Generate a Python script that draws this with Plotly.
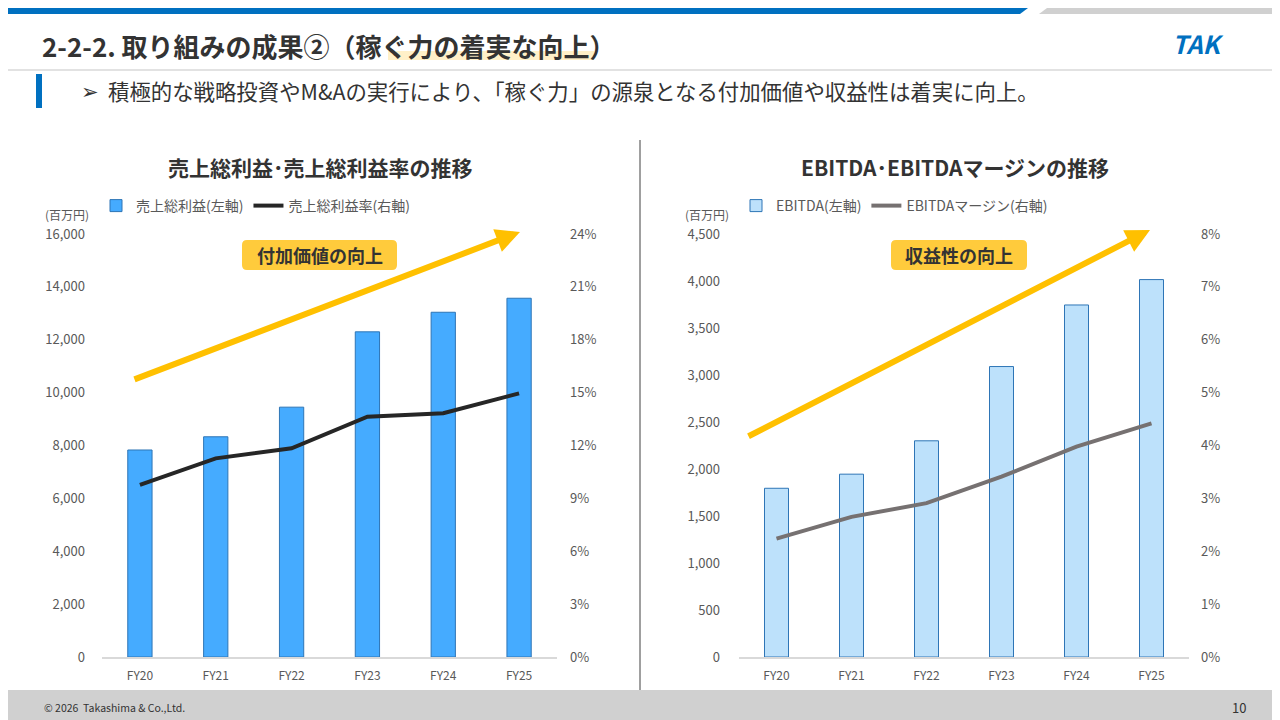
import plotly.graph_objects as go

# data
years = ["FY20", "FY21", "FY22", "FY23", "FY24", "FY25"]
gross_profit = [7830, 8330, 9450, 12300, 13040, 13570]        # 百万円
gross_margin = [0.0976, 0.1127, 0.1184, 0.1363, 0.1383, 0.1496]
ebitda = [1795, 1945, 2300, 3090, 3745, 4015]                 # 百万円
ebitda_margin = [0.0224, 0.0265, 0.0291, 0.0341, 0.0398, 0.0442]

W, H = 1280, 720
OFF = 8  # page body margin, positions below are page pixels
FONT = "Noto Sans CJK JP"
TXT = "#333333"
TICK = "#595959"
BLUE = "#0070C0"
YELLOW = "#FFC000"


def px(x):
    return (x - OFF) / W


def py(y):
    return 1 - (y - OFF) / H


fig = go.Figure()

fig.add_trace(go.Bar(x=years, y=gross_profit, name="売上総利益(左軸)",
                     marker=dict(color="#45ABFF", line=dict(color="#2E75B6", width=1)),
                     xaxis="x", yaxis="y", legend="legend"))
fig.add_trace(go.Scatter(x=years, y=gross_margin, name="売上総利益率(右軸)", mode="lines",
                         line=dict(color="#262626", width=4),
                         xaxis="x", yaxis="y2", legend="legend"))
fig.add_trace(go.Bar(x=years, y=ebitda, name="EBITDA(左軸)",
                     marker=dict(color="#BDE1FB", line=dict(color="#2E75B6", width=1)),
                     xaxis="x2", yaxis="y3", legend="legend2"))
fig.add_trace(go.Scatter(x=years, y=ebitda_margin, name="EBITDAマージン(右軸)", mode="lines",
                         line=dict(color="#767171", width=4),
                         xaxis="x2", yaxis="y4", legend="legend2"))

tickfont = dict(family=FONT, size=13, color=TICK)
xcommon = dict(showgrid=False, zeroline=False, showline=True, linecolor="#D9D9D9",
               linewidth=2, ticks="", tickfont=dict(family=FONT, size=12, color=TICK),
               ticklabelstandoff=7, fixedrange=True)
ycommon = dict(showgrid=False, zeroline=False, showline=False, ticks="",
               tickfont=tickfont, fixedrange=True)
ydom = [py(657), py(234)]

fig.update_layout(
    width=W, height=H,
    margin=dict(l=0, r=0, t=0, b=0, autoexpand=False),
    paper_bgcolor="white", plot_bgcolor="white",
    font=dict(family=FONT, color=TXT),
    bargap=0.68,
    xaxis=dict(domain=[px(102), px(557)], anchor="y", **xcommon),
    yaxis=dict(domain=ydom, anchor="x", range=[0, 16000], dtick=2000,
               tickformat=",", ticklabelstandoff=16, **ycommon),
    yaxis2=dict(overlaying="y", side="right", anchor="x", range=[0, 0.24], dtick=0.03,
                tickformat=".0%", ticklabelstandoff=12, **ycommon),
    xaxis2=dict(domain=[px(739), px(1189)], anchor="y3", **xcommon),
    yaxis3=dict(domain=ydom, anchor="x2", range=[0, 4500], dtick=500,
                tickformat=",", ticklabelstandoff=18, **ycommon),
    yaxis4=dict(overlaying="y3", side="right", anchor="x2", range=[0, 0.08], dtick=0.01,
                tickformat=".0%", ticklabelstandoff=11, **ycommon),
    legend=dict(orientation="h", x=px(96), y=py(190), xanchor="left", yanchor="top",
                font=dict(family=FONT, size=14, color=TICK), bgcolor="rgba(0,0,0,0)",
                itemwidth=30, tracegroupgap=0),
    legend2=dict(orientation="h", x=px(736), y=py(190), xanchor="left", yanchor="top",
                 font=dict(family=FONT, size=14, color=TICK), bgcolor="rgba(0,0,0,0)",
                 itemwidth=30, tracegroupgap=0),
    showlegend=True,
)

shapes = []
# top band
shapes.append(dict(type="path", xref="paper", yref="paper",
                   path=f"M 0 1 L {px(1028)} 1 L {px(1020)} {py(14)} L 0 {py(14)} Z",
                   fillcolor=BLUE, line=dict(width=0)))
shapes.append(dict(type="path", xref="paper", yref="paper",
                   path=f"M {px(1047)} 1 L 1 1 L 1 {py(14)} L {px(1039)} {py(14)} Z",
                   fillcolor="#D0D0D0", line=dict(width=0)))
# title highlight
shapes.append(dict(type="rect", xref="paper", yref="paper",
                   x0=px(388), x1=px(594), y0=py(60), y1=py(51),
                   fillcolor="#FFF0C8", line=dict(width=0), layer="below"))
# header rule and accent
shapes.append(dict(type="line", xref="paper", yref="paper",
                   x0=0, x1=1, y0=py(70), y1=py(70), line=dict(color="#D9D9D9", width=1.5)))
shapes.append(dict(type="rect", xref="paper", yref="paper",
                   x0=px(36), x1=px(42), y0=py(108), y1=py(74),
                   fillcolor=BLUE, line=dict(width=0)))
# divider
shapes.append(dict(type="line", xref="paper", yref="paper",
                   x0=px(640), x1=px(640), y0=py(140), y1=py(690),
                   line=dict(color="#404040", width=1)))
# footer band
shapes.append(dict(type="rect", xref="paper", yref="paper",
                   x0=0, x1=1, y0=0, y1=py(690), fillcolor="#D0D0D0", line=dict(width=0)))


def rounded_box(x0, y0, x1, y1, r):
    p = (f"M {px(x0 + r)} {py(y0)} L {px(x1 - r)} {py(y0)} "
         f"Q {px(x1)} {py(y0)} {px(x1)} {py(y0 + r)} L {px(x1)} {py(y1 - r)} "
         f"Q {px(x1)} {py(y1)} {px(x1 - r)} {py(y1)} L {px(x0 + r)} {py(y1)} "
         f"Q {px(x0)} {py(y1)} {px(x0)} {py(y1 - r)} L {px(x0)} {py(y0 + r)} "
         f"Q {px(x0)} {py(y0)} {px(x0 + r)} {py(y0)} Z")
    return dict(type="path", xref="paper", yref="paper", path=p,
                fillcolor="#FFCB3C", line=dict(width=0))


shapes.append(rounded_box(242, 240, 397, 270, 5))
shapes.append(rounded_box(891, 240, 1027, 270, 5))
fig.update_layout(shapes=shapes)


def note(text, x, y, size, color=TXT, bold=False, xanchor="left"):
    t = f"<b>{text}</b>" if bold else text
    fig.add_annotation(text=t, x=px(x), y=py(y), xref="paper", yref="paper",
                       xanchor=xanchor, yanchor="middle", showarrow=False,
                       font=dict(family=FONT, size=size, color=color))


note("2-2-2. 取り組みの成果②（稼ぐ力の着実な向上）", 40, 45, 26, bold=True)
note("<i>TAK</i>", 1198, 43, 25, color=BLUE, bold=True, xanchor="center")
note("➢", 79, 90, 21)
note("積極的な戦略投資やM&Aの実行により、「稼ぐ力」の源泉となる付加価値や収益性は着実に向上。",
     106, 90, 21.4)
note("売上総利益･売上総利益率の推移", 320, 167, 21, bold=True, xanchor="center")
note("EBITDA･EBITDAマージンの推移", 955, 167, 21, bold=True, xanchor="center")
note("(百万円)", 43, 214, 12, color=TICK)
note("(百万円)", 683, 214, 12, color=TICK)
note("付加価値の向上", 320, 255, 18, bold=True, xanchor="center")
note("収益性の向上", 959, 255, 18, bold=True, xanchor="center")
note("© 2026  Takashima & Co.,Ltd.", 42, 707, 10.5)
note("10", 1248, 707, 13, xanchor="right")

# trend arrows
for head, tail in [((520, 232), (133, 380)), ((1150, 230), (747, 437))]:
    fig.add_annotation(x=px(head[0]), y=py(head[1]), xref="paper", yref="paper",
                       ax=tail[0] - head[0], ay=tail[1] - head[1], axref="pixel", ayref="pixel",
                       text="", showarrow=True, arrowhead=2, arrowsize=0.8, arrowwidth=6,
                       arrowcolor=YELLOW, standoff=0, startstandoff=0)

fig.write_html("out.html")
